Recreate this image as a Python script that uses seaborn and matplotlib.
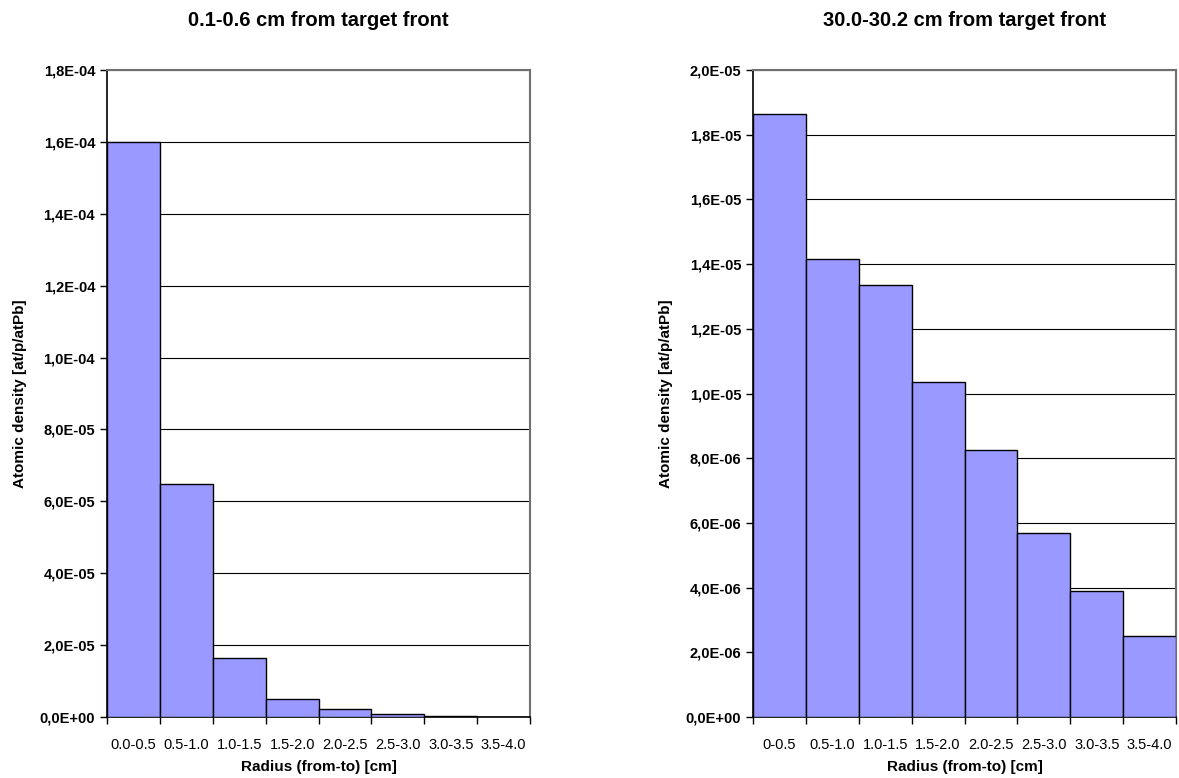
import numpy as np
import pandas as pd
import matplotlib
matplotlib.use('Agg')
import matplotlib.pyplot as plt
import seaborn as sns
from matplotlib.ticker import FuncFormatter, MultipleLocator, FixedLocator

#--------------------------------------------------------------------
# data
#--------------------------------------------------------------------
labels_front = ['0.0-0.5', '0.5-1.0', '1.0-1.5', '1.5-2.0', '2.0-2.5', '2.5-3.0', '3.0-3.5', '3.5-4.0']
density_front = [1.60e-4, 6.48e-5, 1.65e-5, 5.0e-6, 2.2e-6, 9.0e-7, 3.7e-7, 1.0e-7]

labels_back = ['0-0.5', '0.5-1.0', '1.0-1.5', '1.5-2.0', '2.0-2.5', '2.5-3.0', '3.0-3.5', '3.5-4.0']
density_back = [1.863e-5, 1.415e-5, 1.335e-5, 1.037e-5, 8.25e-6, 5.70e-6, 3.89e-6, 2.49e-6]

titles = ['0.1-0.6 cm from target front', '30.0-30.2 cm from target front']
ymax = [1.8e-4, 2.0e-5]
ystep = [2e-5, 2e-6]

sns.set_style('white')
plt.rcParams['font.family'] = ['Liberation Sans', 'DejaVu Sans']
plt.rcParams['text.color'] = 'black'
plt.rcParams['axes.labelcolor'] = 'black'
plt.rcParams['xtick.color'] = 'black'
plt.rcParams['ytick.color'] = 'black'

def sci_comma(v, pos):
    return ('%.1E' % v).replace('.', ',')

def draw_panel(ax, labels, values, title, top, step):
    df = pd.DataFrame({'radius': labels, 'density': values})
    sns.barplot(data=df, x='radius', y='density', ax=ax, color='#9999FF',
                saturation=1, width=1.0, edgecolor='black', linewidth=1.0, zorder=3)
    ax.set_xlim(-0.5, len(labels) - 0.5)
    ax.set_ylim(0, top)
    ax.yaxis.set_major_locator(MultipleLocator(step))
    ax.yaxis.set_major_formatter(FuncFormatter(sci_comma))
    ax.grid(axis='y', color='black', linewidth=0.8, zorder=0)
    ax.set_axisbelow(True)
    # category boundaries carry the tick marks
    ax.xaxis.set_minor_locator(FixedLocator(np.arange(-0.5, len(labels), 1.0)))
    ax.tick_params(axis='x', which='major', length=0, pad=15, labelsize=10.5)
    ax.tick_params(axis='x', which='minor', length=5, width=1, color='black', direction='out', bottom=True)
    ax.tick_params(axis='y', length=5, width=1, color='black', direction='out', left=True, labelsize=10.5)
    for t in ax.get_yticklabels():
        t.set_fontweight('bold')
    for side in ['left', 'bottom']:
        ax.spines[side].set_color('black')
        ax.spines[side].set_linewidth(1.2)
    for side in ['top', 'right']:
        ax.spines[side].set_color('#707070')
        ax.spines[side].set_linewidth(1.5)
    ax.set_xlabel('Radius (from-to) [cm]', fontsize=11, fontweight='bold', labelpad=6)
    ax.set_ylabel('Atomic density [at/p/atPb]', fontsize=11, fontweight='bold', labelpad=9)
    ax.set_title(title, fontsize=14.5, fontweight='bold', pad=32)

fig = plt.figure(figsize=(11.79, 7.78), dpi=100)
ax1 = fig.add_axes([0.0908, 0.0784, 0.3588, 0.8316])
ax2 = fig.add_axes([0.6387, 0.0784, 0.3588, 0.8316])

draw_panel(ax1, labels_front, density_front, titles[0], ymax[0], ystep[0])
draw_panel(ax2, labels_back, density_back, titles[1], ymax[1], ystep[1])

fig.savefig('out.png', dpi=100, facecolor='white')
